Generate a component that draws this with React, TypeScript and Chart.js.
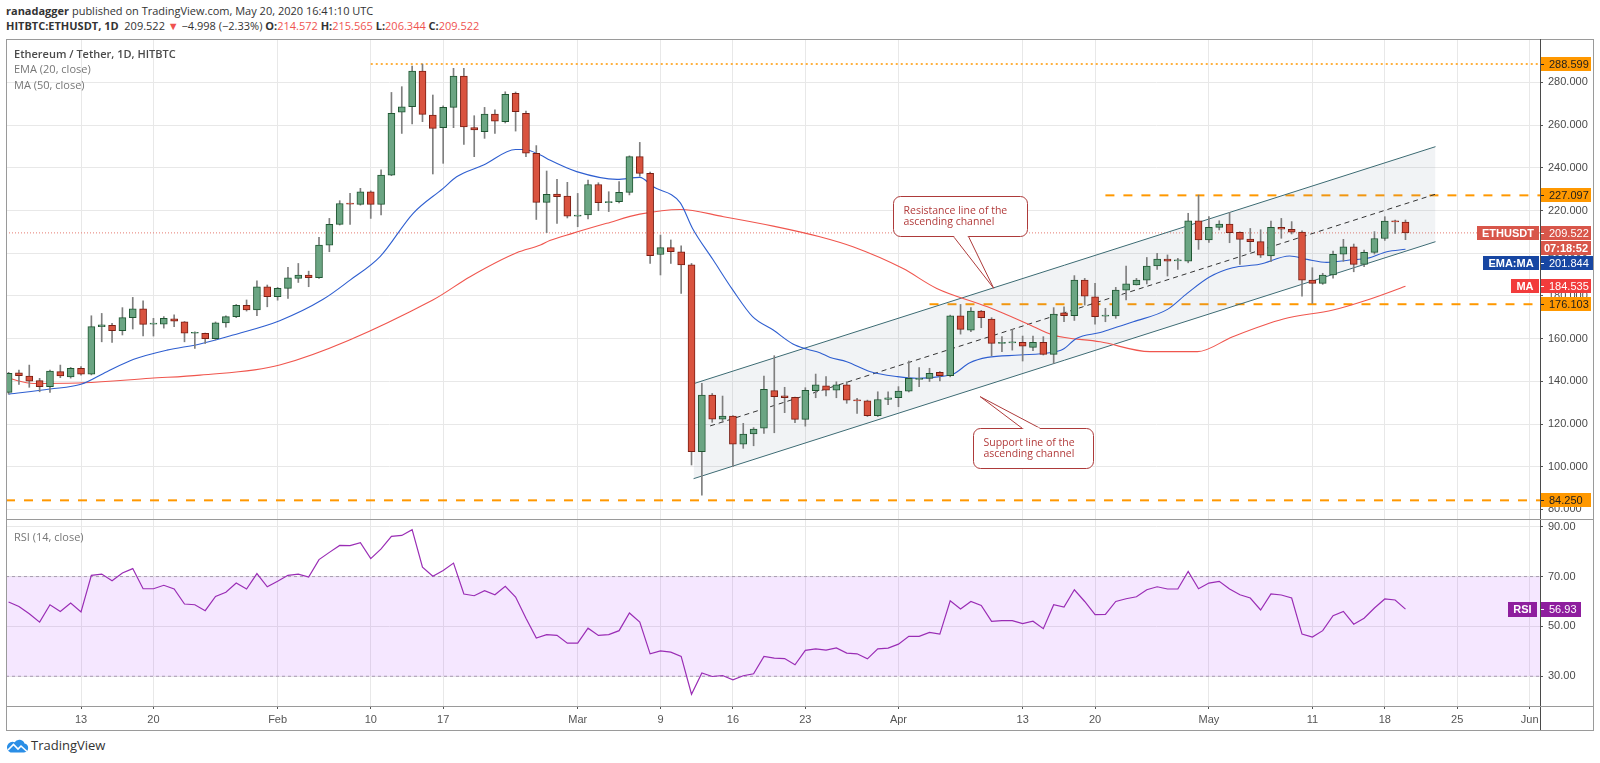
import React, { useEffect, useRef } from "react";
import { Chart, registerables } from "chart.js";

Chart.register(...registerables);

// ---------- data (day index 0 = 2020-01-06, one candle per day up to 2020-05-20) ----------
const opens = [
  134.8, 144.0, 142.5, 140.3, 137.5, 144.5, 142.0, 146.1, 143.4, 165.6,
  166.2, 163.7, 169.8, 173.9, 166.8, 166.8, 169.3, 167.9, 162.5, 162.5,
  160.0, 167.4, 170.3, 175.6, 173.4, 184.3, 179.6, 183.5, 188.2, 189.8,
  188.5, 203.8, 213.5, 223.3, 222.9, 228.8, 222.9, 236.6, 266.0, 268.6,
  285.3, 264.7, 258.8, 268.3, 283.0, 258.8, 256.9, 265.2, 261.6, 274.9,
  265.5, 246.8, 223.8, 227.7, 226.8, 217.4, 217.9, 232.2, 223.7, 224.1,
  228.5, 245.2, 237.4, 199.4, 202.6, 200.7, 194.5, 107.0, 133.6, 122.3,
  123.7, 110.6, 115.3, 118.0, 135.6, 133.2, 132.5, 122.2, 135.6, 137.9,
  135.9, 138.3, 131.2, 130.8, 123.9, 131.5, 132.3, 135.4, 140.9, 141.4,
  144.2, 142.6, 170.7, 164.0, 172.9, 169.2, 157.8, 158.0, 158.2, 155.9,
  158.2, 152.6, 172.1, 170.7, 187.4, 179.6, 170.5, 170.6, 182.7, 185.1,
  187.4, 194.0, 197.3, 196.4, 196.3, 215.2, 206.2, 212.1, 213.7, 209.8,
  206.6, 205.4, 198.7, 212.1, 211.2, 209.9, 187.4, 185.9, 189.8, 199.5,
  203.0, 194.8, 200.4, 206.9, 214.9, 214.572,
];
const highs = [
  144.2, 145.3, 147.6, 141.4, 145.3, 147.6, 146.5, 146.9, 170.7, 171.8,
  167.1, 174.5, 179.3, 177.7, 169.5, 170.3, 171.1, 168.0, 163.2, 162.6,
  167.8, 170.7, 176.0, 178.1, 187.1, 185.1, 184.0, 193.4, 195.2, 191.6,
  207.4, 216.3, 224.6, 228.0, 230.4, 229.2, 239.0, 275.3, 278.0, 287.7,
  288.6, 274.1, 269.0, 286.6, 286.6, 264.4, 268.3, 267.1, 275.6, 275.5,
  266.6, 250.4, 238.5, 234.6, 233.2, 228.0, 234.3, 233.0, 228.8, 233.5,
  245.6, 251.9, 238.0, 208.5, 206.2, 203.4, 195.2, 139.0, 134.3, 133.1,
  124.0, 120.3, 118.3, 142.5, 152.0, 137.2, 132.6, 137.0, 143.4, 142.2,
  139.8, 139.8, 132.0, 131.2, 135.1, 135.1, 137.5, 149.5, 146.4, 146.1,
  144.5, 171.0, 176.0, 174.5, 173.2, 169.8, 160.9, 164.3, 161.2, 161.2,
  160.9, 174.5, 174.9, 189.5, 188.2, 185.9, 174.2, 184.0, 194.0, 188.2,
  198.0, 199.9, 199.2, 197.6, 218.7, 227.2, 217.1, 215.2, 219.1, 210.0,
  211.6, 211.0, 215.1, 216.3, 214.8, 210.5, 193.2, 190.6, 201.0, 206.5,
  204.3, 201.5, 210.1, 217.1, 215.5, 215.565,
];
const lows = [
  134.0, 138.6, 137.2, 135.1, 134.8, 141.7, 141.5, 142.9, 143.0, 158.5,
  158.2, 161.7, 164.5, 161.2, 161.2, 164.9, 165.6, 158.5, 155.4, 157.7,
  159.4, 165.3, 169.8, 172.9, 170.7, 174.9, 178.0, 178.8, 186.3, 184.3,
  188.2, 200.7, 213.2, 213.5, 222.5, 216.3, 217.9, 236.3, 256.1, 260.5,
  261.6, 237.1, 242.1, 258.8, 251.0, 245.2, 253.8, 256.1, 261.0, 257.2,
  245.2, 215.8, 209.6, 214.0, 216.5, 212.4, 216.0, 219.9, 219.5, 223.5,
  227.3, 236.0, 195.2, 189.8, 195.2, 181.2, 100.8, 86.7, 120.8, 120.8,
  100.0, 108.6, 109.8, 115.6, 115.9, 125.3, 120.6, 119.0, 132.3, 133.1,
  132.3, 129.7, 125.0, 123.5, 123.5, 129.1, 128.1, 135.0, 137.5, 139.9,
  140.2, 142.1, 162.1, 163.2, 165.1, 152.0, 153.9, 154.6, 149.5, 154.3,
  152.3, 148.4, 167.9, 168.5, 175.7, 166.8, 167.9, 169.5, 178.1, 185.1,
  185.6, 192.4, 189.3, 192.4, 195.5, 201.8, 205.0, 210.9, 204.9, 194.8,
  200.7, 198.0, 196.0, 207.0, 209.0, 179.9, 176.5, 185.4, 188.3, 196.2,
  191.3, 193.7, 199.6, 206.0, 209.3, 206.344,
];
const closes = [
  143.7, 142.6, 140.1, 137.5, 144.8, 142.5, 146.1, 143.4, 165.6, 166.4,
  163.7, 169.8, 173.9, 166.7, 166.9, 169.5, 168.2, 162.5, 162.6, 160.0,
  167.4, 170.3, 175.6, 173.4, 184.3, 179.6, 183.5, 188.5, 189.8, 188.5,
  203.8, 213.5, 223.3, 223.0, 228.8, 222.9, 236.6, 265.5, 268.6, 285.3,
  265.0, 258.5, 268.3, 283.0, 259.2, 257.7, 265.2, 261.9, 274.4, 266.3,
  246.8, 223.8, 227.6, 226.5, 217.4, 217.5, 232.2, 223.7, 224.1, 228.5,
  245.2, 237.4, 198.8, 202.6, 200.7, 194.5, 107.0, 133.6, 122.3, 123.7,
  110.6, 115.3, 117.6, 136.3, 132.8, 132.3, 122.2, 135.8, 138.3, 135.9,
  138.3, 131.2, 130.8, 123.9, 131.5, 132.3, 135.4, 141.4, 141.4, 143.7,
  142.6, 170.7, 164.3, 172.9, 169.8, 157.8, 157.9, 158.2, 156.5, 158.2,
  152.6, 171.5, 170.7, 187.4, 179.9, 170.3, 170.6, 182.7, 185.6, 187.4,
  194.0, 197.3, 196.3, 196.5, 215.2, 206.2, 212.1, 213.7, 209.6, 206.5,
  205.4, 199.1, 212.1, 211.2, 209.8, 187.4, 185.9, 189.8, 199.5, 203.0,
  194.8, 200.4, 206.9, 215.1, 214.7, 209.522,
];
const rsiValues = [
  59.8, 58.0, 55.1, 51.7, 58.7, 56.0, 59.4, 55.8, 70.5, 71.0,
  68.3, 71.4, 73.2, 65.1, 65.1, 66.5, 65.0, 59.0, 58.7, 56.3,
  62.0, 63.7, 67.4, 65.0, 71.2, 65.9, 68.1, 70.5, 71.0, 69.8,
  76.8, 79.7, 82.5, 82.4, 83.6, 77.2, 81.1, 86.1, 86.5, 88.8,
  73.8, 70.1, 72.4, 75.4, 63.0, 62.3, 64.3, 62.7, 66.1, 61.8,
  53.3, 45.3, 46.7, 46.4, 43.3, 43.3, 49.3, 46.4, 46.7, 48.3,
  55.4, 51.7, 39.0, 40.2, 39.7, 38.0, 22.8, 31.3, 29.9, 30.3,
  28.6, 30.2, 31.0, 38.0, 37.3, 37.1, 34.6, 40.4, 41.0, 40.5,
  41.4, 39.3, 39.0, 37.0, 41.0, 41.3, 42.9, 46.0, 46.0, 47.6,
  46.9, 60.3, 57.0, 60.0, 58.4, 52.0, 52.3, 52.3, 51.1, 52.1,
  49.1, 58.7, 57.8, 64.7, 60.0, 54.7, 54.8, 60.0, 61.1, 61.9,
  64.7, 65.9, 65.0, 65.0, 72.1, 65.1, 67.4, 68.1, 65.0, 62.7,
  61.4, 56.6, 63.0, 62.6, 61.4, 46.9, 45.7, 48.3, 54.3, 56.0,
  50.9, 53.3, 57.4, 61.0, 60.6, 56.93,
];

const emaDays = [
  0, 4, 7, 9.5, 12.1, 15.3, 18.5, 21.7, 26.2, 30.4, 33, 35.9, 39.1, 42, 43.3, 45.9,
  49, 49.8, 51.4, 52.3, 54.9, 58.8, 61, 62.3, 64.9, 66.1, 68.1, 70, 71.9, 73.9, 75.8,
  77.2, 78.4, 79.4, 81, 83.3, 85.9, 87.8, 90, 91.3, 92.9, 94.6, 97.7, 100.6, 101.9,
  103.2, 105.5, 106.4, 108.7, 112, 113.9, 116.1, 118.3, 120.9, 123.8, 125.5, 127.4,
  129.6, 131.3, 133.2, 135,
];
const emaValues = [
  134.0, 136.4, 138.6, 144.5, 150.3, 154.6, 157.5, 161.7, 168.4, 178.4, 187.4, 198.4,
  218.7, 230.4, 235.8, 241.3, 248.6, 248.6, 246.0, 243.6, 238.2, 234.6, 235.5, 231.1,
  223.7, 211.6, 196.8, 182.7, 170.3, 164.0, 157.5, 155.0, 153.4, 151.2, 149.2, 144.5,
  142.2, 141.4, 142.2, 143.4, 148.7, 151.2, 152.3, 153.4, 155.0, 160.1, 162.9, 164.3,
  167.9, 173.7, 181.2, 189.0, 193.2, 194.8, 198.7, 197.1, 195.7, 196.8, 197.6, 200.7,
  201.844,
];
const maDays = [
  0, 2.4, 7.2, 13.7, 18.5, 26.2, 41, 44.6, 49.1, 51.4, 52.3, 54.5, 57.8, 61, 64.9,
  69.1, 73.9, 78.4, 81.6, 86.4, 89.7, 94.6, 98.4, 100.9, 105.5, 110.3, 114.9, 118.3,
  123.2, 128, 131.3, 135,
];
const maValues = [
  141.4, 139.0, 139.3, 141.4, 142.9, 147.6, 178.1, 189.0, 200.2, 203.8, 205.9, 209.3,
  214.0, 218.3, 220.5, 217.1, 212.7, 207.7, 203.0, 192.9, 183.5, 174.9, 167.1, 161.7,
  158.5, 153.9, 153.9, 160.9, 169.2, 173.4, 178.1, 184.535,
];

const channelDays = [66.2, 137.9];
const channelUpper = [138.9, 249.9];
const channelLower = [94.4, 205.4];
const channelMidDays = [67.8, 137.9];
const channelMid = [119.1, 227.65];

const levelValues = [288.599, 227.097, 176.103, 84.25];
const levelStartDays = [35, 106, 89, -0.25];
const lastPrice = 209.522;
const emaLast = 201.844;
const maLast = 184.535;
const rsiLast = 56.93;
const countdown = "07:18:52";

const xTickDays = [7, 14, 26, 35, 42, 55, 63, 70, 77, 86, 98, 105, 116, 126, 133, 140, 147];
const xTickLabels = ["13", "20", "Feb", "10", "17", "Mar", "9", "16", "23", "Apr", "13", "20", "May", "11", "18", "25", "Jun"];
const priceTicks = [80, 100, 120, 140, 160, 180, 200, 220, 240, 260, 280];
const rsiTicks = [30, 50, 70, 90];

const callouts = [
  { lines: ["Resistance line of the", "ascending channel"], day: 85.5, price: 226.8, w: 134, h: 40, side: "bottom", base: [60, 75], tipDay: 95.2, tipPrice: 183.6 },
  { lines: ["Support line of the", "ascending channel"], day: 93.2, price: 118.1, w: 120, h: 40, side: "top", base: [49, 67], tipDay: 93.9, tipPrice: 132.8 },
];

// ---------- styling ----------
const X_MIN = -0.25;
const X_MAX = 148;
const PRICE_MIN = 75.04;
const PRICE_MAX = 299.86;
const RSI_MIN = 18.07;
const RSI_MAX = 92.69;

const FONT = "'Open Sans', 'Liberation Sans', Arial, sans-serif";
const AXIS_FONT = "'Liberation Sans Narrow', 'Liberation Sans', Arial, sans-serif";
const GRID = "#e8e8e8";
const UP_FILL = "#6ba583";
const UP_BORDER = "#1f5632";
const DN_FILL = "#d9533f";
const DN_BORDER = "#7a1f14";
const WICK = "#7f7f7f";
const ORANGE = "#ff9800";
const TAG_RED = "#d8564a";
const TAG_BLUE = "#1746a2";
const TAG_MA = "#f23b3b";
const RSI_PURPLE = "#9a2db5";
const CALLOUT = "#ad3a3a";

function drawTag(ctx: any, x: number, yc: number, w: number, h: number, bg: string, fg: string, text: string, tick: boolean, center?: boolean) {
  const top = Math.round(yc - h / 2);
  ctx.fillStyle = bg;
  ctx.fillRect(x, top, w, h);
  ctx.fillStyle = fg;
  ctx.font = "11px " + AXIS_FONT;
  ctx.textBaseline = "middle";
  if (center) {
    ctx.textAlign = "center";
    ctx.font = "bold 11px " + AXIS_FONT;
    ctx.fillText(text, x + w / 2, top + h / 2 + 0.5);
  } else {
    ctx.textAlign = "left";
    ctx.fillText(text, x + 8, top + h / 2 + 0.5);
  }
  if (tick) {
    ctx.fillRect(x, top + Math.floor(h / 2), 3, 1);
  }
}

function drawLeftTag(ctx: any, right: number, yc: number, h: number, bg: string, text: string) {
  ctx.font = "bold 11px " + AXIS_FONT;
  const w = Math.ceil(ctx.measureText(text).width) + 10;
  const top = Math.round(yc - h / 2);
  ctx.fillStyle = bg;
  ctx.fillRect(right - w, top, w, h);
  ctx.fillStyle = "#ffffff";
  ctx.textAlign = "center";
  ctx.textBaseline = "middle";
  ctx.fillText(text, right - w / 2, top + h / 2 + 0.5);
}

function roundRect(ctx: any, x: number, y: number, w: number, h: number, r: number) {
  ctx.beginPath();
  ctx.moveTo(x + r, y);
  ctx.lineTo(x + w - r, y);
  ctx.arcTo(x + w, y, x + w, y + r, r);
  ctx.lineTo(x + w, y + h - r);
  ctx.arcTo(x + w, y + h, x + w - r, y + h, r);
  ctx.lineTo(x + r, y + h);
  ctx.arcTo(x, y + h, x, y + h - r, r);
  ctx.lineTo(x, y + r);
  ctx.arcTo(x, y, x + r, y, r);
  ctx.closePath();
}

const priceOverlay = {
  id: "priceOverlay",
  afterDatasetsDraw(chart: any) {
    const ctx = chart.ctx;
    const xs = chart.scales.x;
    const ys = chart.scales.y;
    ctx.save();
    callouts.forEach((c) => {
      const x0 = Math.round(xs.getPixelForValue(c.day)) + 0.5;
      const y0 = Math.round(ys.getPixelForValue(c.price)) + 0.5;
      const by = c.side === "bottom" ? y0 + c.h : y0;
      const tx = xs.getPixelForValue(c.tipDay);
      const ty = ys.getPixelForValue(c.tipPrice);
      ctx.lineWidth = 1;
      ctx.strokeStyle = CALLOUT;
      ctx.fillStyle = "#ffffff";
      roundRect(ctx, x0, y0, c.w, c.h, 7);
      ctx.fill();
      ctx.stroke();
      ctx.beginPath();
      ctx.moveTo(x0 + c.base[0], by);
      ctx.lineTo(tx, ty);
      ctx.lineTo(x0 + c.base[1], by);
      ctx.closePath();
      ctx.fill();
      ctx.beginPath();
      ctx.moveTo(x0 + c.base[0], by);
      ctx.lineTo(tx, ty);
      ctx.lineTo(x0 + c.base[1], by);
      ctx.stroke();
      ctx.fillStyle = "#ffffff";
      ctx.fillRect(x0 + c.base[0] + 1, by - 1, c.base[1] - c.base[0] - 2, 2);
      ctx.fillStyle = "#b23c3c";
      ctx.font = "10.5px " + FONT;
      ctx.textAlign = "left";
      ctx.textBaseline = "middle";
      ctx.fillText(c.lines[0], x0 + 10, y0 + c.h / 2 - 5.5);
      ctx.fillText(c.lines[1], x0 + 10, y0 + c.h / 2 + 5.5);
    });
    ctx.restore();
  },
  afterDraw(chart: any) {
    const ctx = chart.ctx;
    const ys = chart.scales.y;
    const ax = ys.left + 1;
    const H = 14;
    const W = 50;
    ctx.save();
    levelValues.forEach((v) => {
      drawTag(ctx, ax, ys.getPixelForValue(v), W, H, ORANGE, "#1e1e1e", v.toFixed(3), true);
    });
    const yl = ys.getPixelForValue(lastPrice);
    drawTag(ctx, ax, yl, W, H, TAG_RED, "#ffffff", lastPrice.toFixed(3), true);
    drawLeftTag(ctx, ys.left - 1, yl, H, TAG_RED, "ETHUSDT");
    const yt = yl + 15.5;
    drawTag(ctx, ax, yt, W, H, TAG_RED, "#ffffff", countdown, false, true);
    const ye = Math.max(ys.getPixelForValue(emaLast), yt + 15);
    drawTag(ctx, ax, ye, W + 2, H, TAG_BLUE, "#ffffff", emaLast.toFixed(3), true);
    drawLeftTag(ctx, ys.left - 1, ye, H, TAG_BLUE, "EMA:MA");
    const ym = Math.max(ys.getPixelForValue(maLast), ye + 15);
    drawTag(ctx, ax, ym, W, H, TAG_MA, "#ffffff", maLast.toFixed(3), true);
    drawLeftTag(ctx, ys.left - 1, ym, H, TAG_MA, "MA");
    ctx.restore();
  },
};

const rsiOverlay = {
  id: "rsiOverlay",
  afterDraw(chart: any) {
    const ctx = chart.ctx;
    const ys = chart.scales.y;
    const y = ys.getPixelForValue(rsiLast);
    ctx.save();
    drawTag(ctx, ys.left + 1, y, 40, 15, "#8e1e9e", "#ffffff", rsiLast.toFixed(2), true);
    drawLeftTag(ctx, ys.left - 3, y, 15, "#8e1e9e", "RSI");
    ctx.restore();
  },
};

function lineSeries(xsArr: number[], ysArr: number[]) {
  return xsArr.map((x, k) => ({ x, y: ysArr[k] }));
}

export default function App() {
  const priceRef = useRef<HTMLCanvasElement>(null);
  const rsiRef = useRef<HTMLCanvasElement>(null);

  useEffect(() => {
    const days = opens.map((_, i) => i);
    const up = days.map((i) => closes[i] >= opens[i]);

    const xTicks = (s: any) => {
      s.ticks = xTickDays.map((v) => ({ value: v }));
    };

    const priceChart = new Chart(priceRef.current as HTMLCanvasElement, {
      type: "bar",
      data: {
        datasets: [
          {
            type: "bar",
            data: days.map((i) => ({ x: i, y: [opens[i], closes[i]] })),
            backgroundColor: up.map((u) => (u ? UP_FILL : DN_FILL)),
            borderColor: up.map((u) => (u ? UP_BORDER : DN_BORDER)),
            borderWidth: 1,
            borderSkipped: false,
            barThickness: 7,
            minBarLength: 1,
            grouped: false,
            order: 0,
          },
          {
            type: "bar",
            data: days.map((i) => ({ x: i, y: [lows[i], highs[i]] })),
            backgroundColor: WICK,
            borderWidth: 0,
            barThickness: 1,
            grouped: false,
            order: 1,
          },
          {
            type: "line",
            data: lineSeries(emaDays, emaValues),
            borderColor: "#2f5fd0",
            borderWidth: 1.1,
            pointRadius: 0,
            cubicInterpolationMode: "monotone",
            order: 2,
          },
          {
            type: "line",
            data: lineSeries(maDays, maValues),
            borderColor: "#f0564e",
            borderWidth: 1.1,
            pointRadius: 0,
            cubicInterpolationMode: "monotone",
            order: 3,
          },
          {
            type: "line",
            data: lineSeries(channelMidDays, channelMid),
            borderColor: "#333333",
            borderDash: [5, 4],
            borderWidth: 1,
            pointRadius: 0,
            order: 4,
          },
          {
            type: "line",
            data: lineSeries(channelDays, channelUpper),
            borderColor: "#3b6a72",
            borderWidth: 1,
            pointRadius: 0,
            fill: "+1",
            backgroundColor: "rgba(120,134,156,0.1)",
            order: 5,
          },
          {
            type: "line",
            data: lineSeries(channelDays, channelLower),
            borderColor: "#3b6a72",
            borderWidth: 1,
            pointRadius: 0,
            order: 6,
          },
          ...levelValues.map((v, k) => ({
            type: "line",
            data: [
              { x: levelStartDays[k], y: v },
              { x: X_MAX, y: v },
            ],
            borderColor: ORANGE,
            borderDash: k === 0 ? [2, 3] : [9, 9],
            borderWidth: k === 0 ? 1.5 : 2,
            pointRadius: 0,
            order: 7 + k,
          })),
          {
            type: "line",
            data: [
              { x: X_MIN, y: lastPrice },
              { x: X_MAX, y: lastPrice },
            ],
            borderColor: "#e57a70",
            borderDash: [1, 2],
            borderWidth: 1,
            pointRadius: 0,
            order: 20,
          },
        ] as any,
      },
      options: {
        responsive: false,
        animation: false,
        events: [],
        layout: { padding: 0 },
        plugins: { legend: { display: false }, tooltip: { enabled: false } },
        scales: {
          x: {
            type: "linear",
            position: "top",
            min: X_MIN,
            max: X_MAX,
            offset: false,
            grid: { color: GRID, drawTicks: false, offset: false },
            border: { display: false },
            ticks: { display: false },
            afterBuildTicks: xTicks,
            afterFit: (s: any) => {
              s.height = 0;
              s.paddingLeft = 0;
              s.paddingRight = 0;
            },
          },
          y: {
            type: "linear",
            position: "right",
            min: PRICE_MIN,
            max: PRICE_MAX,
            grid: { color: GRID, tickColor: "#555555", tickLength: 3 },
            border: { display: false },
            ticks: {
              color: "#4a4a4a",
              font: { family: AXIS_FONT, size: 11 },
              padding: 5,
              callback: (v: any) => Number(v).toFixed(3),
            },
            afterBuildTicks: (s: any) => {
              s.ticks = priceTicks.map((v) => ({ value: v }));
            },
            afterFit: (s: any) => {
              s.width = 53;
              s.paddingTop = 0;
              s.paddingBottom = 0;
            },
          },
        },
      } as any,
      plugins: [priceOverlay],
    });

    const rsiChart = new Chart(rsiRef.current as HTMLCanvasElement, {
      type: "line",
      data: {
        datasets: [
          {
            data: days.map((i) => ({ x: i, y: rsiValues[i] })),
            borderColor: RSI_PURPLE,
            borderWidth: 1.2,
            pointRadius: 0,
            order: 0,
          },
          {
            data: [
              { x: X_MIN, y: 70 },
              { x: X_MAX, y: 70 },
            ],
            borderColor: "#a79daf",
            borderDash: [3, 3],
            borderWidth: 1,
            pointRadius: 0,
            fill: { value: 30 },
            backgroundColor: "rgba(153,21,255,0.1)",
            order: 1,
          },
          {
            data: [
              { x: X_MIN, y: 30 },
              { x: X_MAX, y: 30 },
            ],
            borderColor: "#a79daf",
            borderDash: [3, 3],
            borderWidth: 1,
            pointRadius: 0,
            order: 2,
          },
        ] as any,
      },
      options: {
        responsive: false,
        animation: false,
        events: [],
        layout: { padding: 0 },
        plugins: { legend: { display: false }, tooltip: { enabled: false } },
        scales: {
          x: {
            type: "linear",
            position: "bottom",
            min: X_MIN,
            max: X_MAX,
            grid: { color: GRID, tickColor: "#555555", tickLength: 3 },
            border: { display: false },
            ticks: {
              autoSkip: false,
              maxRotation: 0,
              color: "#555555",
              padding: 4,
              font: { family: AXIS_FONT, size: 11 },
              callback: (_v: any, idx: number) => xTickLabels[idx],
            },
            afterBuildTicks: xTicks,
            afterFit: (s: any) => {
              s.height = 24;
              s.paddingLeft = 0;
              s.paddingRight = 0;
            },
          },
          y: {
            type: "linear",
            position: "right",
            min: RSI_MIN,
            max: RSI_MAX,
            grid: { color: GRID, tickColor: "#555555", tickLength: 3 },
            border: { display: false },
            ticks: {
              color: "#4a4a4a",
              font: { family: AXIS_FONT, size: 11 },
              padding: 5,
              callback: (v: any) => Number(v).toFixed(2),
            },
            afterBuildTicks: (s: any) => {
              s.ticks = rsiTicks.map((v) => ({ value: v }));
            },
            afterFit: (s: any) => {
              s.width = 53;
              s.paddingTop = 0;
              s.paddingBottom = 0;
            },
          },
        },
      } as any,
      plugins: [rsiOverlay],
    });

    return () => {
      priceChart.destroy();
      rsiChart.destroy();
    };
  }, []);

  const red = { color: "#ef5350" };
  const abs = (left: number, top: number, extra: any = {}) => ({ position: "absolute" as const, left, top, ...extra });

  return (
    <div style={{ position: "fixed", left: 0, top: 0, width: 1600, height: 763, background: "#ffffff", overflow: "hidden", fontFamily: FONT, color: "#333" }}>
      <div style={abs(6, 3, { fontSize: 11, lineHeight: "16px", whiteSpace: "nowrap" })}>
        <b>ranadagger</b> published on TradingView.com, May 20, 2020 16:41:10 UTC
      </div>
      <div style={abs(6, 18, { fontSize: 11, lineHeight: "16px", whiteSpace: "nowrap" })}>
        <b>HITBTC:ETHUSDT, 1D</b>&nbsp; 209.522 <span style={red}>▼</span> −4.998 (−2.33%) <b>O:</b>
        <span style={red}>214.572</span> <b>H:</b>
        <span style={red}>215.565</span> <b>L:</b>
        <span style={red}>206.344</span> <b>C:</b>
        <span style={red}>209.522</span>
      </div>

      <canvas ref={priceRef} width={1587} height={480} style={abs(6, 40, { width: 1587, height: 480 })} />
      <canvas ref={rsiRef} width={1587} height={210} style={abs(6, 520, { width: 1587, height: 210 })} />

      <div style={abs(14, 46, { fontSize: 11, lineHeight: "16px", color: "#4a4a4a", fontWeight: 600, whiteSpace: "nowrap" })}>
        Ethereum / Tether, 1D, HITBTC
      </div>
      <div style={abs(14, 61, { fontSize: 11, lineHeight: "16px", color: "#777", whiteSpace: "nowrap" })}>EMA (20, close)</div>
      <div style={abs(14, 77, { fontSize: 11, lineHeight: "16px", color: "#777", whiteSpace: "nowrap" })}>MA (50, close)</div>
      <div style={abs(14, 529, { fontSize: 11, lineHeight: "16px", color: "#777", whiteSpace: "nowrap" })}>RSI (14, close)</div>

      {/* frame */}
      <div style={abs(6, 39, { width: 1586, height: 690, border: "1px solid #9a9a9a" })} />
      <div style={abs(1540, 39, { width: 1, height: 691, background: "#4a4a4a" })} />
      <div style={abs(6, 519, { width: 1587, height: 1, background: "#9a9a9a" })} />
      <div style={abs(6, 706, { width: 1587, height: 1, background: "#9a9a9a" })} />

      {/* footer logo */}
      <svg style={abs(6, 739)} width={23} height={14} viewBox="0 0 23 14">
        <path d="M4.5 13.5 H18 A4.5 4.5 0 0 0 18.5 4.6 A5.5 5.5 0 0 0 8.6 3.2 A4.8 4.8 0 0 0 4.5 13.5 Z" fill="#2a8ee6" />
        <polyline points="2,11 7.5,5.5 12,10 15,7 21,12.5" fill="none" stroke="#ffffff" strokeWidth={1.6} />
      </svg>
      <div style={abs(31, 737, { fontSize: 13, lineHeight: "17px", color: "#333", whiteSpace: "nowrap" })}>TradingView</div>
    </div>
  );
}
